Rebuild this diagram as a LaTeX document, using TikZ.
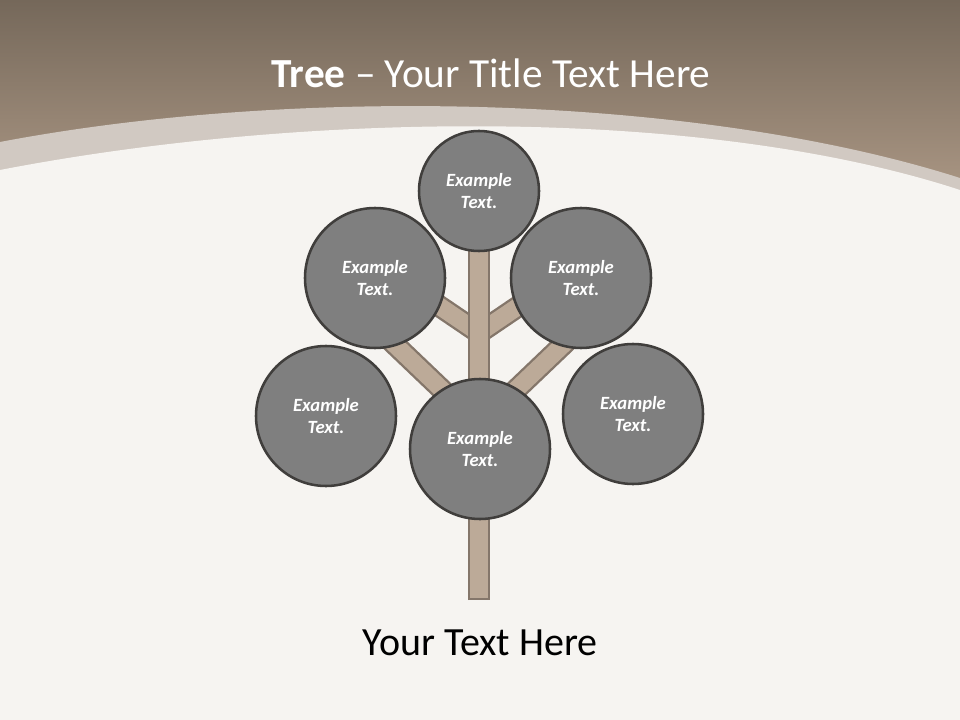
\documentclass[tikz,border=0pt]{standalone}
\usepackage{fontspec}
\setmainfont{Carlito}
\usepackage{xcolor}
\usetikzlibrary{positioning,calc}
\definecolor{skytop}{RGB}{117,104,90}
\definecolor{skybot}{RGB}{172,152,133}
\definecolor{rim}{RGB}{209,201,194}
\definecolor{paper}{RGB}{246,244,241}
\definecolor{bark}{RGB}{132,118,106}
\definecolor{barkfill}{RGB}{188,170,152}
\definecolor{leaf}{RGB}{127,127,127}
\definecolor{leafrim}{RGB}{64,62,60}
\tikzset{
  leaf/.style   = {circle, draw=leafrim, line width=1.9pt, fill=leaf,
                   minimum size=105pt, inner sep=0pt, align=center,
                   text=white, font=\bfseries\itshape\fontsize{14}{17}\selectfont},
  crown/.style  = {leaf, minimum size=90pt},
  branch/.style = {draw=bark, line width=16.5pt},
  pith/.style   = {draw=barkfill, line width=13pt},
  title/.style  = {text=white, font=\fontsize{31}{36}\selectfont, anchor=base},
  caption/.style= {text=black, font=\fontsize{30}{36}\selectfont, anchor=base}
}
\begin{document}
\begin{tikzpicture}[x=0.75pt,y=-0.75pt]
  \useasboundingbox (0,0) rectangle (960,720);
  \shade[top color=skytop, bottom color=skybot] (0,0) rectangle (960,200);
  \fill[rim] (0,142) .. controls (300,85) and (700,95) .. (960,178) -- (960,720) -- (0,720) -- cycle;
  \fill[paper]
    (0,170) .. controls (300,112) and (700,105) .. (960,190) -- (960,720) -- (0,720) -- cycle;

  \node[title] (head) at (491,88) {\textbf{Tree} – Your Title Text Here};
  \node[caption] (foot) at (480,655) {Your Text Here};

  \coordinate (root)  at (479,600);
  \coordinate (fork1) at (479,425);
  \coordinate (fork2) at (479,333);
  \coordinate (outl)  at (390,340);
  \coordinate (outr)  at (568,340);
  \coordinate (inl)   at (420,293);
  \coordinate (inr)   at (538,293);
  \coordinate (crest) at (479,235);

  \foreach \a/\b in {fork1/outl,fork1/outr,fork2/inl,fork2/inr}
    \draw[branch] (\a) -- (\b);
  \foreach \a/\b in {fork1/outl,fork1/outr,fork2/inl,fork2/inr}
    \draw[pith] (\a) -- (\b);
  \draw[branch] (root) -- (crest);
  \draw[pith, shorten <=1.75pt] (root) -- (crest);

  \node[crown] (top) at (479,191) {Example\\Text.};
  \node[leaf] (upl) at (375,278) {Example\\Text.};
  \node[leaf] (upr) at (581,278) {Example\\Text.};
  \node[leaf] (lowl) at (326,416) {Example\\Text.};
  \node[leaf] (mid) at (480,449) {Example\\Text.};
  \node[leaf] (lowr) at (633,414) {Example\\Text.};
\end{tikzpicture}
\end{document}
